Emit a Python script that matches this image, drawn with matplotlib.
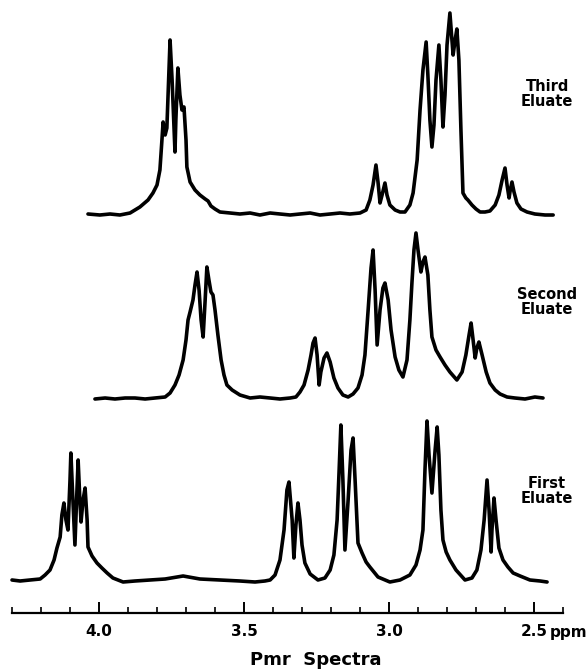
import numpy as np
import matplotlib
matplotlib.use("Agg")
import matplotlib.pyplot as plt
from matplotlib.ticker import FixedLocator, MultipleLocator

# traced spectra: chemical shift (ppm) and signal height above each trace's baseline
third_ppm = [4.038, 3.997, 3.962, 3.928, 3.893, 3.859, 3.831, 3.814, 3.800, 3.790, 3.783, 3.779,
             3.772, 3.766, 3.755, 3.748, 3.738, 3.735, 3.728, 3.721, 3.714, 3.707, 3.700, 3.697,
             3.686, 3.669, 3.652, 3.634, 3.624, 3.614, 3.600, 3.583, 3.548, 3.514, 3.479, 3.445,
             3.410, 3.376, 3.341, 3.307, 3.272, 3.238, 3.203, 3.169, 3.135, 3.100, 3.079, 3.066,
             3.055, 3.045, 3.038, 3.031, 3.024, 3.014, 3.007, 2.997, 2.979, 2.962, 2.945, 2.928,
             2.917, 2.903, 2.893, 2.883, 2.872, 2.866, 2.859, 2.852, 2.845, 2.838, 2.828, 2.821,
             2.814, 2.807, 2.800, 2.790, 2.783, 2.779, 2.772, 2.766, 2.759, 2.752, 2.745, 2.735,
             2.728, 2.714, 2.700, 2.686, 2.669, 2.652, 2.634, 2.621, 2.610, 2.600, 2.593, 2.586,
             2.583, 2.576, 2.569, 2.559, 2.545, 2.524, 2.497, 2.462, 2.434]
third_int = [0, -1, 0, -1, 1, 7, 14, 21, 29, 44, 74, 92,
             79, 86, 174, 134, 62, 94, 146, 119, 104, 107, 74, 47,
             32, 24, 19, 15, 13, 8, 5, 2, 1, 0, 1, -1,
             1, 0, -1, 0, 1, -1, 0, 1, 0, 1, 4, 14,
             29, 49, 32, 11, 19, 31, 19, 9, 4, 2, 2, 9,
             21, 54, 104, 144, 172, 139, 94, 67, 89, 134, 169, 134,
             87, 119, 169, 201, 174, 159, 174, 185, 154, 84, 21, 16,
             14, 9, 5, 2, 2, 3, 9, 19, 34, 46, 29, 16,
             22, 32, 22, 11, 5, 2, 0, -1, -1]

second_ppm = [4.014, 3.979, 3.945, 3.910, 3.876, 3.841, 3.807, 3.772, 3.755, 3.738, 3.724, 3.710,
              3.700, 3.693, 3.686, 3.676, 3.669, 3.662, 3.655, 3.648, 3.641, 3.634, 3.628, 3.621,
              3.614, 3.607, 3.600, 3.590, 3.579, 3.569, 3.559, 3.541, 3.514, 3.479, 3.445, 3.410,
              3.376, 3.341, 3.321, 3.307, 3.293, 3.279, 3.269, 3.262, 3.255, 3.248, 3.241, 3.235,
              3.224, 3.214, 3.203, 3.190, 3.176, 3.159, 3.141, 3.124, 3.107, 3.093, 3.083, 3.072,
              3.062, 3.055, 3.048, 3.041, 3.031, 3.021, 3.014, 3.003, 2.993, 2.979, 2.966, 2.952,
              2.938, 2.928, 2.921, 2.914, 2.907, 2.900, 2.890, 2.883, 2.876, 2.866, 2.859, 2.852,
              2.838, 2.824, 2.807, 2.790, 2.766, 2.748, 2.735, 2.724, 2.717, 2.710, 2.703, 2.697,
              2.690, 2.679, 2.665, 2.652, 2.634, 2.617, 2.593, 2.566, 2.531, 2.497, 2.469]
second_int = [-1, 0, -1, 0, 0, -1, 0, 1, 5, 13, 23, 38,
              58, 78, 86, 98, 113, 126, 108, 78, 61, 98, 131, 118,
              106, 103, 88, 63, 38, 23, 13, 8, 3, 0, 1, 0,
              -1, 0, 1, 6, 13, 28, 43, 55, 60, 43, 13, 26,
              40, 45, 36, 20, 10, 3, 1, 4, 10, 23, 43, 88,
              130, 148, 108, 53, 88, 110, 115, 98, 68, 41, 28, 21,
              38, 78, 115, 148, 165, 148, 126, 136, 141, 123, 88, 61,
              48, 41, 33, 26, 18, 26, 43, 63, 75, 58, 40, 50,
              56, 43, 26, 15, 8, 4, 1, 0, -1, 1, 0]

first_ppm = [4.300, 4.272, 4.238, 4.203, 4.186, 4.169, 4.155, 4.145, 4.134, 4.128, 4.121, 4.114,
             4.107, 4.100, 4.097, 4.090, 4.083, 4.076, 4.072, 4.066, 4.062, 4.055, 4.048, 4.041,
             4.038, 4.024, 4.007, 3.990, 3.972, 3.952, 3.917, 3.876, 3.824, 3.772, 3.710, 3.652,
             3.583, 3.514, 3.462, 3.428, 3.410, 3.393, 3.376, 3.362, 3.352, 3.345, 3.334, 3.328,
             3.321, 3.314, 3.307, 3.300, 3.290, 3.272, 3.245, 3.221, 3.203, 3.190, 3.179, 3.172,
             3.166, 3.159, 3.152, 3.141, 3.131, 3.124, 3.117, 3.107, 3.093, 3.079, 3.066, 3.038,
             2.997, 2.962, 2.928, 2.907, 2.893, 2.883, 2.876, 2.869, 2.862, 2.852, 2.841, 2.834,
             2.828, 2.821, 2.814, 2.803, 2.790, 2.769, 2.738, 2.714, 2.697, 2.683, 2.672, 2.662,
             2.655, 2.648, 2.645, 2.638, 2.631, 2.621, 2.607, 2.590, 2.572, 2.548, 2.514, 2.479,
             2.455]
first_int = [1, 0, 1, 2, 6, 11, 21, 33, 44, 66, 78, 61,
             51, 101, 128, 81, 36, 91, 121, 81, 59, 81, 93, 61,
             34, 25, 18, 13, 8, 3, -1, 0, 1, 2, 5, 2,
             1, 0, -1, 0, 1, 6, 21, 51, 91, 99, 61, 23,
             56, 78, 61, 36, 18, 7, 1, 3, 11, 26, 61, 111,
             156, 101, 31, 81, 131, 143, 101, 38, 28, 19, 14, 4,
             -1, 1, 6, 16, 31, 51, 111, 160, 126, 88, 131, 154,
             126, 71, 41, 29, 21, 11, 1, 3, 11, 31, 61, 101,
             71, 29, 51, 83, 61, 33, 21, 14, 8, 5, 1, 0,
             -1]

eluate_names = ["Third\nEluate", "Second\nEluate", "First\nEluate"]
major_ticks = [4.0, 3.5, 3.0, 2.5]
major_labels = ["4.0", "3.5", "3.0", "2.5"]

W, H = 587, 671
fig = plt.figure(figsize=(W / 100, H / 100), dpi=100)
ax = fig.add_axes([0, 58 / H, 1, 1 - 58 / H])

traces = [(third_ppm, third_int, 399, 94),
          (second_ppm, second_int, 215, 302),
          (first_ppm, first_int, 32, 491)]
for (x, y, base, label_y), name in zip(traces, eluate_names):
    ax.plot(x, base + np.array(y), color="black", lw=2.6,
            solid_joinstyle="round", solid_capstyle="round")
    ax.text(2.455, 613 - label_y, name, ha="center", va="center",
            fontsize=10.5, fontweight="bold", linespacing=1.0)

ax.set_xlim(4.3414, 2.3173)
ax.set_ylim(0, 613)
for side in ["top", "left", "right"]:
    ax.spines[side].set_visible(False)
ax.spines["bottom"].set_bounds(4.3, 2.4)
ax.spines["bottom"].set_linewidth(1.6)
ax.set_yticks([])
ax.xaxis.set_major_locator(FixedLocator(major_ticks))
ax.set_xticklabels(major_labels, fontsize=11, fontweight="bold")
ax.xaxis.set_minor_locator(MultipleLocator(0.1))
ax.tick_params(axis="x", which="major", direction="in", length=8, width=1.4, pad=8)
ax.tick_params(axis="x", which="minor", direction="in", length=4.5, width=1.2)
ax.text(2.447, -20, "ppm", ha="left", va="center", fontsize=11, fontweight="bold")
for t in ax.texts:
    t.set_clip_on(False)

fig.text(316 / W, 1 - 660 / H, "Pmr  Spectra", ha="center", va="center",
         fontsize=13, fontweight="bold")

fig.savefig("out.png", dpi=100)
